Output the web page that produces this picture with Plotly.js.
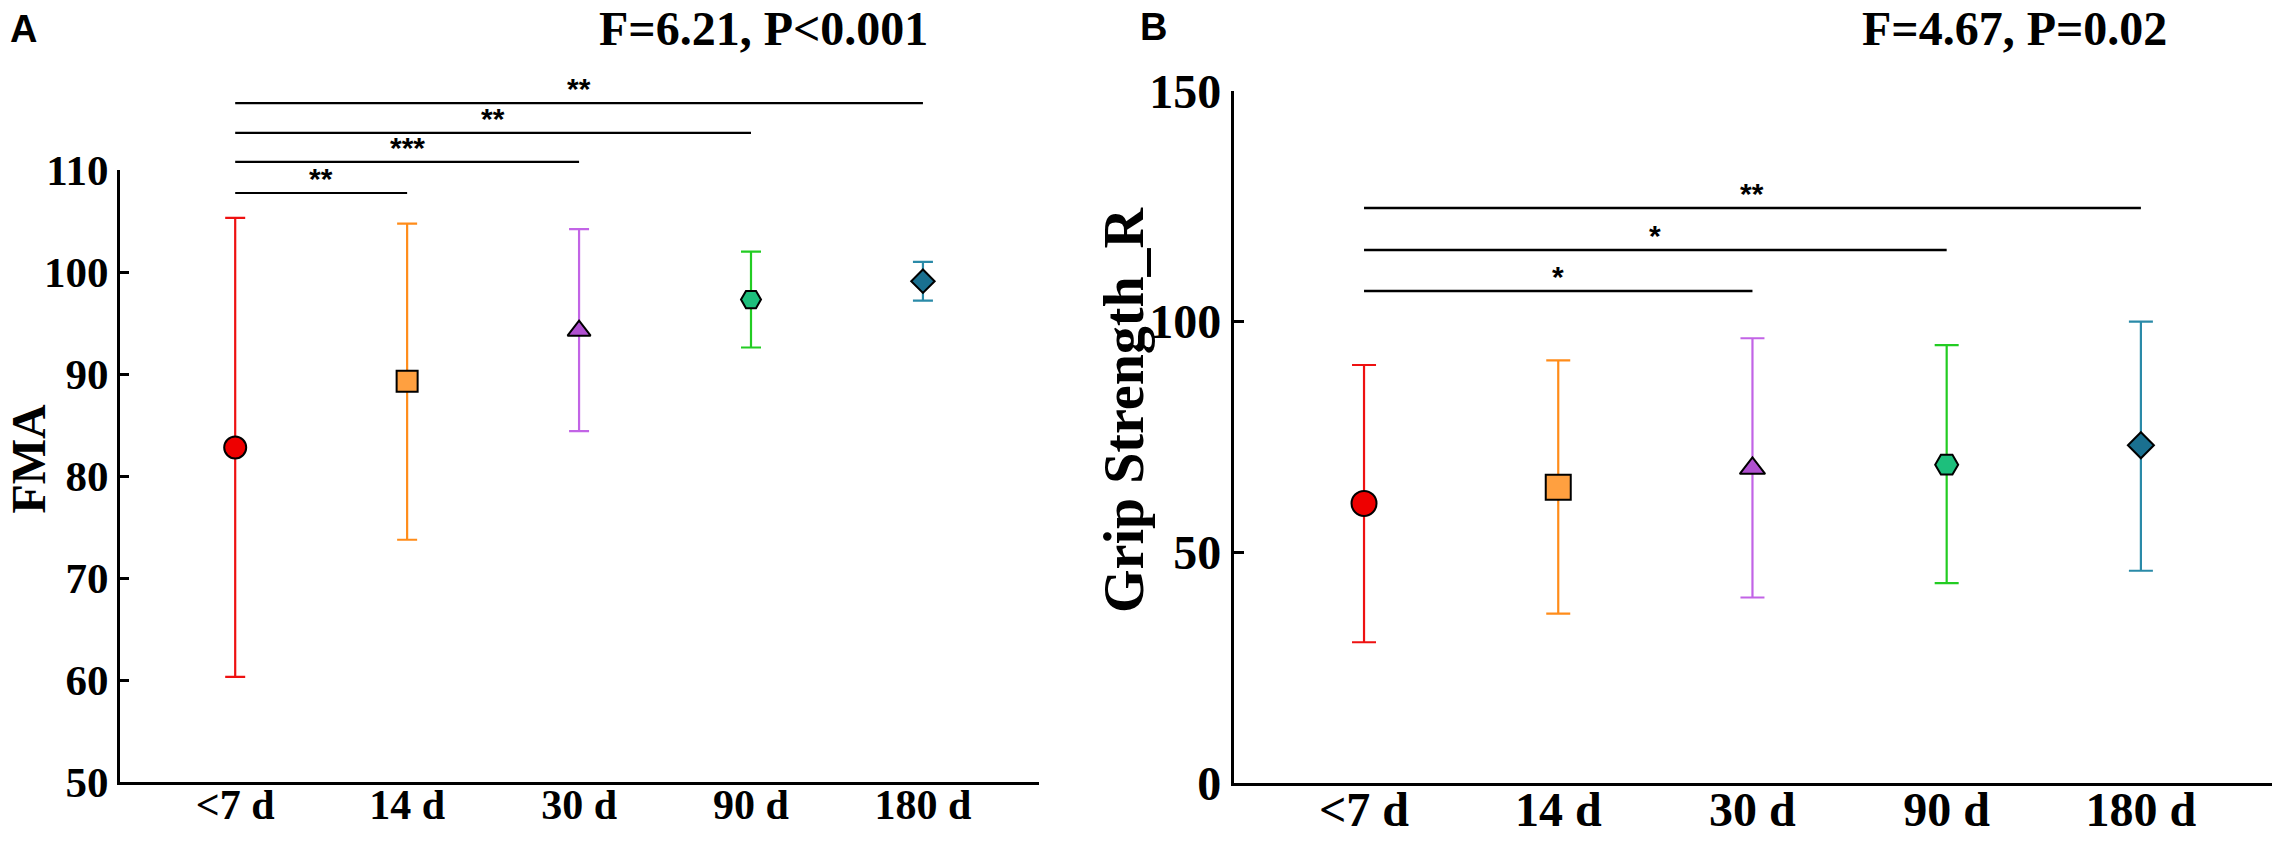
<!DOCTYPE html>
<html>
<head>
<meta charset="utf-8">
<script src="https://cdn.plot.ly/plotly-3.0.1.min.js"></script>
<style>
  body { margin: 0; background: #fff; }
  #chart { width: 2277px; height: 848px; }
</style>
</head>
<body>
<div id="chart"></div>
<script>
var groups = ['<7 d', '14 d', '30 d', '90 d', '180 d'];

// panel A: FMA (mean and error bar ends)
var fmaMean  = [82.8, 89.3, 94.25, 97.3, 99.1];
var fmaUpper = [105.3, 104.75, 104.2, 102.0, 101.0];
var fmaLower = [60.3, 73.75, 84.4, 92.6, 97.2];

// panel B: Grip Strength_R
var gripMean  = [60.6, 64.1, 68.2, 69.0, 73.2];
var gripUpper = [90.6, 91.6, 96.4, 94.9, 100.0];
var gripLower = [30.5, 36.7, 40.2, 43.3, 46.0];

// pairwise comparisons against <7 d
var fmaPairs  = [[0, 1], [0, 2], [0, 3], [0, 4]];
var fmaStars  = ['**', '***', '**', '**'];
var gripPairs = [[0, 2], [0, 3], [0, 4]];
var gripStars = ['*', '*', '**'];

var fmaStat  = 'F=6.21, P<0.001';
var gripStat = 'F=4.67, P=0.02';

var lineColors = ['#ee1111', '#ff8c1a', '#c264e6', '#22cc22', '#2a8aa8'];
var fillColors = ['#ee0000', '#ffa040', '#b050d0', '#1dbf7c', '#1a7090'];
var symbols = ['circle', 'square', 'triangle-up', 'hexagon2', 'diamond'];
var sizesA = [22, 21, 20, 20, 18];
var sizesB = [25, 25, 22, 23, 20];

// bracket heights (paper fraction)
var levelsA = [0.7724, 0.8090, 0.8432, 0.8785];
var levelsB = [0.6568, 0.7052, 0.7547];

var serif = 'Liberation Serif, Times New Roman, serif';
var sans = 'Liberation Sans, Arial, sans-serif';

function makeTraces(mean, upper, lower, xa, ya, sizes, capw) {
  var out = [];
  for (var i = 0; i < groups.length; i++) {
    out.push({
      type: 'scatter',
      mode: 'markers',
      x: [groups[i]],
      y: [mean[i]],
      xaxis: xa,
      yaxis: ya,
      marker: {
        symbol: symbols[i],
        size: sizes[i],
        color: fillColors[i],
        line: {color: '#000', width: 2}
      },
      error_y: {
        type: 'data',
        symmetric: false,
        array: [upper[i] - mean[i]],
        arrayminus: [mean[i] - lower[i]],
        color: lineColors[i],
        thickness: 2.2,
        width: capw
      },
      cliponaxis: false,
      hoverinfo: 'x+y'
    });
  }
  return out;
}

var data = makeTraces(fmaMean, fmaUpper, fmaLower, 'x', 'y', sizesA, 10)
  .concat(makeTraces(gripMean, gripUpper, gripLower, 'x2', 'y2', sizesB, 12));

var shapes = [];
var annotations = [];

function addBrackets(pairs, stars, levels, xref, width) {
  for (var i = 0; i < pairs.length; i++) {
    shapes.push({
      type: 'line', xref: xref, yref: 'paper',
      x0: pairs[i][0], x1: pairs[i][1], y0: levels[i], y1: levels[i],
      line: {color: '#000', width: width}
    });
    annotations.push({
      xref: xref, yref: 'paper',
      x: (pairs[i][0] + pairs[i][1]) / 2, y: levels[i],
      text: stars[i], showarrow: false,
      xanchor: 'center', yanchor: 'bottom', yshift: -4,
      font: {family: sans, size: 30, color: '#000', weight: 'bold'}
    });
  }
}
addBrackets(fmaPairs, fmaStars, levelsA, 'x', 2.2);
addBrackets(gripPairs, gripStars, levelsB, 'x2', 2.6);

annotations.push(
  {xref: 'paper', yref: 'paper', x: 0.0105, y: 0.966, text: 'A', showarrow: false,
   xanchor: 'center', yanchor: 'middle', font: {family: sans, size: 38, color: '#000', weight: 'bold'}},
  {xref: 'paper', yref: 'paper', x: 0.5068, y: 0.968, text: 'B', showarrow: false,
   xanchor: 'center', yanchor: 'middle', font: {family: sans, size: 38, color: '#000', weight: 'bold'}},
  {xref: 'paper', yref: 'paper', x: 0.3351, y: 1, text: fmaStat, showarrow: false,
   xanchor: 'center', yanchor: 'top', font: {family: serif, size: 48, color: '#000', weight: 'bold'}},
  {xref: 'paper', yref: 'paper', x: 0.8849, y: 1, text: gripStat, showarrow: false,
   xanchor: 'center', yanchor: 'top', font: {family: serif, size: 48, color: '#000', weight: 'bold'}},
  {xref: 'paper', yref: 'paper', x: 0, y: 0.4587, text: 'FMA', showarrow: false, textangle: -90,
   xanchor: 'left', yanchor: 'middle', font: {family: serif, size: 48, color: '#000', weight: 'bold'}},
  {xref: 'paper', yref: 'paper', x: 0.4936, y: 0.5165, text: 'Grip Strength_R', showarrow: false, textangle: -90,
   xanchor: 'center', yanchor: 'middle', font: {family: serif, size: 56, color: '#000', weight: 'bold'}}
);

function xAxis(domain, anchor, fsize, standoff) {
  return {
    domain: domain, anchor: anchor, type: 'category',
    range: [-0.67, 4.675],
    showline: true, linecolor: '#000', linewidth: 3,
    ticks: '', showgrid: false, zeroline: false,
    ticklabelstandoff: standoff,
    tickfont: {family: serif, size: fsize, color: '#000', weight: 'bold'}
  };
}
function yAxis(domain, anchor, range, dtick, fsize, tlen) {
  return {
    domain: domain, anchor: anchor,
    range: range, tick0: range[0], dtick: dtick,
    showline: true, linecolor: '#000', linewidth: 3,
    ticks: 'inside', ticklen: tlen, tickwidth: 3, tickcolor: '#000',
    showgrid: false, zeroline: false,
    tickfont: {family: serif, size: fsize, color: '#000', weight: 'bold'}
  };
}

var layout = {
  width: 2277,
  height: 848,
  margin: {l: 0, r: 0, t: 0, b: 0},
  paper_bgcolor: '#fff',
  plot_bgcolor: '#fff',
  showlegend: false,
  xaxis: xAxis([0.0527, 0.4563], 'y', 42, -16),
  yaxis: yAxis([0.0778, 0.7995], 'x', [50, 110], 10, 43, 9),
  xaxis2: xAxis([0.5419, 0.9978], 'y2', 48, -18),
  yaxis2: yAxis([0.0767, 0.8927], 'x2', [0, 150], 50, 48, 10),
  shapes: shapes,
  annotations: annotations
};

Plotly.newPlot('chart', data, layout, {displayModeBar: false, staticPlot: true});
</script>
</body>
</html>
